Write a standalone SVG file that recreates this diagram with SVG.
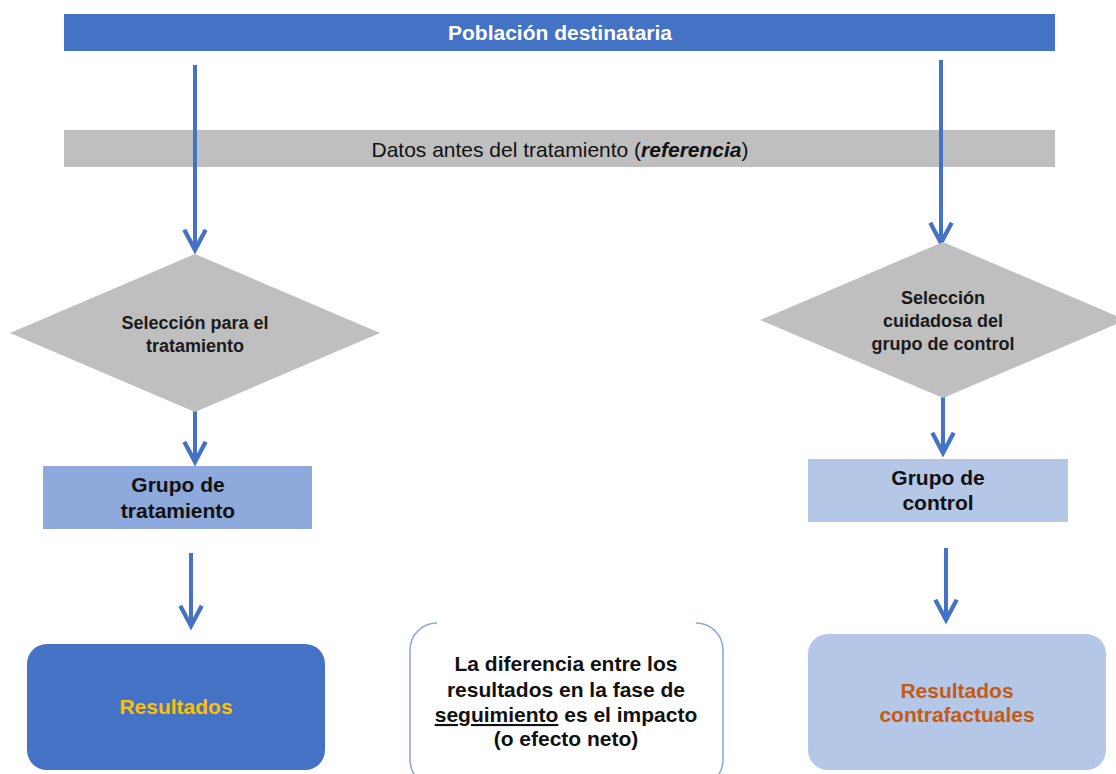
<svg xmlns="http://www.w3.org/2000/svg" width="1116" height="774" viewBox="0 0 1116 774">
<defs>
<style>
.t{font-family:"Liberation Sans",Arial,sans-serif;font-weight:bold;text-anchor:middle;}
.d{font-size:18px;fill:#1a1a1a;}
.b{font-size:21px;fill:#111;}
.conn{stroke:#4472C4;stroke-width:4;fill:none;}
</style>
<marker id="ah" markerUnits="userSpaceOnUse" markerWidth="30" markerHeight="30" refX="0" refY="0" viewBox="-24 -14 28 28" orient="auto" overflow="visible">
<path d="M-19,-10 L0,0 L-19,10" fill="none" stroke="#4472C4" stroke-width="4" stroke-linejoin="miter"/>
</marker>
</defs>
<rect width="1116" height="774" fill="#fff"/>

<g id="poblacion">
<rect x="64" y="14" width="991" height="37" fill="#4472C4"/>
<text class="t" x="560" y="40" font-size="21" fill="#fff">Población destinataria</text>
</g>

<g id="datos">
<rect x="64" y="130" width="991" height="37" fill="#BFBFBF"/>
<text x="560" y="157" font-family="Liberation Sans, Arial, sans-serif" font-size="21" text-anchor="middle" fill="#111">Datos antes del tratamiento (<tspan font-weight="bold" font-style="italic">referencia</tspan>)</text>
</g>

<g id="connectors">
<line class="conn" x1="195" y1="65" x2="195" y2="250" marker-end="url(#ah)"/>
<line class="conn" x1="941" y1="60" x2="941" y2="243" marker-end="url(#ah)"/>
<line class="conn" x1="195" y1="405" x2="195" y2="462" marker-end="url(#ah)"/>
<line class="conn" x1="943" y1="397" x2="943" y2="453" marker-end="url(#ah)"/>
<line class="conn" x1="191" y1="553" x2="191" y2="626" marker-end="url(#ah)"/>
<line class="conn" x1="946" y1="548" x2="946" y2="620" marker-end="url(#ah)"/>
</g>

<g id="seleccion-tratamiento">
<polygon points="195,254 380,333 195,412 10,333" fill="#BFBFBF"/>
<text class="t d" x="195" y="329">Selección para el</text>
<text class="t d" x="195" y="352">tratamiento</text>
</g>

<g id="seleccion-control">
<polygon points="943,242 1126,320 943,398 760,320" fill="#BFBFBF"/>
<text class="t d" x="943" y="304">Selección</text>
<text class="t d" x="943" y="327">cuidadosa del</text>
<text class="t d" x="943" y="350">grupo de control</text>
</g>

<g id="grupo-tratamiento">
<rect x="43" y="466" width="269" height="63" fill="#8EA9DB"/>
<text class="t b" x="178" y="492">Grupo de</text>
<text class="t b" x="178" y="518">tratamiento</text>
</g>

<g id="grupo-control">
<rect x="808" y="459" width="260" height="63" fill="#B4C7E7"/>
<text class="t b" x="938" y="485">Grupo de</text>
<text class="t b" x="938" y="510">control</text>
</g>

<g id="resultados">
<rect x="27" y="644" width="298" height="126" rx="20" ry="20" fill="#4472C4"/>
<text class="t" x="176" y="714" font-size="21" fill="#FFC000">Resultados</text>
</g>

<g id="resultados-contrafactuales">
<rect x="808" y="634" width="298" height="136" rx="20" ry="20" fill="#B4C7E7"/>
<text class="t" x="957" y="698" font-size="21" fill="#C55A11">Resultados</text>
<text class="t" x="957" y="722" font-size="21" fill="#C55A11">contrafactuales</text>
</g>

<g id="diferencia">
<path d="M437,623 A27,27 0 0 0 410,650 L410,760 A27,27 0 0 0 437,787" fill="none" stroke="#8FAADC" stroke-width="1.6"/>
<path d="M696,623 A27,27 0 0 1 723,650 L723,760 A27,27 0 0 1 696,787" fill="none" stroke="#8FAADC" stroke-width="1.6"/>
<text class="t b" x="566" y="671">La diferencia entre los</text>
<text class="t b" x="566" y="697">resultados en la fase de</text>
<text class="t b" x="566" y="722"><tspan text-decoration="underline">seguimiento</tspan> es el impacto</text>
<text class="t b" x="566" y="746">(o efecto neto)</text>
</g>
</svg>
